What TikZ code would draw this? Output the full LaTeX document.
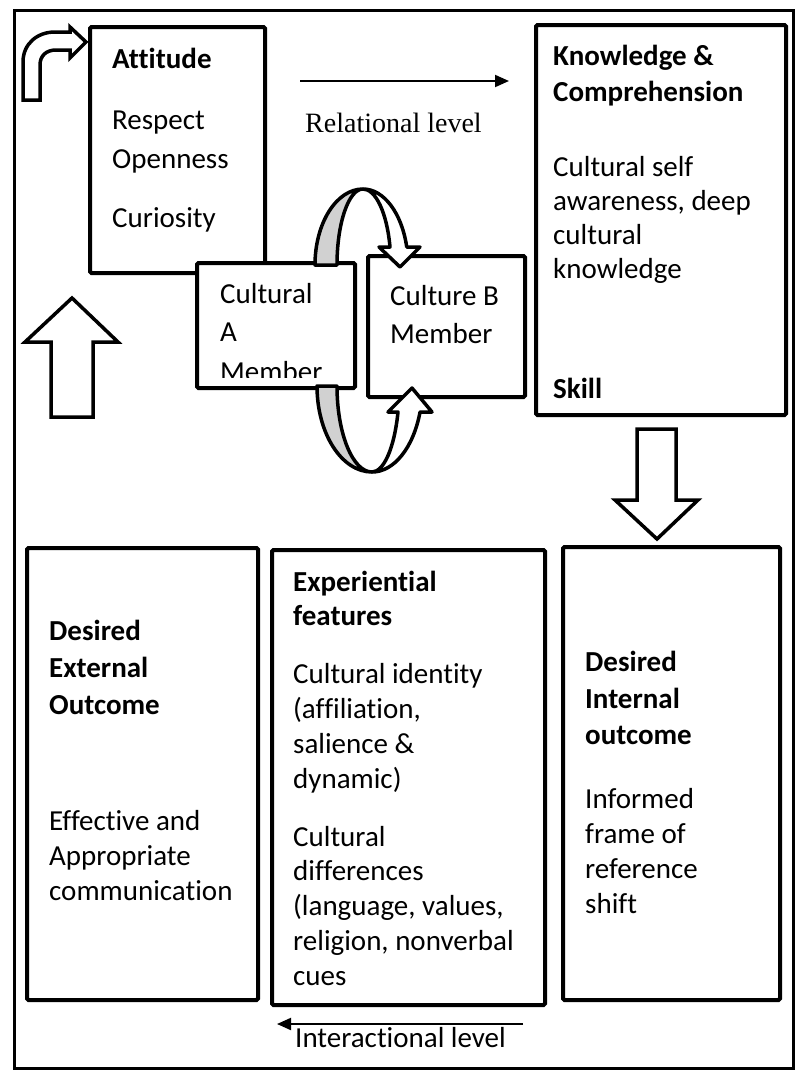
\documentclass[tikz,border=0pt]{standalone}
\usepackage{fontspec}
\setmainfont{Carlito}[Ligatures=NoCommon]
\newfontfamily\serifface{Liberation Serif}
\usetikzlibrary{arrows.meta}

\begin{document}
\begin{tikzpicture}[x=1pt,y=-1pt,
  frame/.style={draw, line width=3pt},
  box/.style={draw, line width=4pt, fill=white, rounded corners=1.5pt, inner sep=0pt, outer sep=0pt},
  txt/.style={anchor=base west, inner sep=0pt, font=\fontsize{29}{35}\selectfont},
  hd/.style={txt, font=\fontsize{29}{35}\selectfont\bfseries},
  bigarrow/.style={draw, line width=3.5pt, fill=white, line join=miter},
  ringback/.style={draw, line width=3.5pt, line join=round, fill=black!18},
  ringfront/.style={draw, line width=3.5pt, line join=round, fill=white},
  level/.style={line width=2pt, -{Triangle[length=14pt,width=12pt]}}
]
\useasboundingbox (0,0) rectangle (799,1071);

% outer frame
\draw[frame] (14,10) rectangle (793,1068);

% upper boxes
\node[box, minimum width=175pt, minimum height=246pt] (att) at (177.5,150) {};
\node[box, minimum width=250pt, minimum height=390pt] (know) at (661,220) {};

% bent arrow into the attitude box
\filldraw[bigarrow] (23,100) -- (23,62) .. controls (23,44) and (37,32) .. (55,32)
  -- (70,32) -- (70,27) -- (86,42) -- (70,58) -- (70,50) -- (56,50)
  .. controls (46,50) and (40,56) .. (40,65) -- (40,100) -- cycle;

% large up and down arrows
\filldraw[bigarrow] (51,417) -- (51,342) -- (25,342) -- (72,298) -- (118,342)
  -- (93,342) -- (93,417) -- cycle;
\filldraw[bigarrow] (637,429) -- (676,429) -- (676,500) -- (698,500) -- (657,539)
  -- (615,500) -- (637,500) -- cycle;

% relational level arrow
\coordinate (relS) at (300,81);
\coordinate (relE) at (509,81);
\draw[level] (relS) -- (relE);
\node[anchor=base west, inner sep=0pt, font=\serifface\fontsize{28}{34}\selectfont] (rel) at (305,132) {Relational level};

% member boxes
\node[box, minimum width=158pt, minimum height=125pt] (memA) at (276,325.5) {};
\node[box, minimum width=157pt, minimum height=141pt] (memB) at (446.5,326.5) {};

% lower boxes
\node[box, minimum width=231pt, minimum height=452pt] (ext) at (142.5,774) {};
\node[box, minimum width=273pt, minimum height=455pt] (exp) at (408.5,777.5) {};
\node[box, minimum width=217pt, minimum height=453pt] (int) at (671.5,773.5) {};

% interactional level arrow
\coordinate (intS) at (523,1024);
\coordinate (intE) at (277,1024);
\draw[level] (intS) -- (intE);
\node[txt] (inter) at (295,1047) {Interactional level};

% attitude text
\node[hd]  (t1) at (112,68)  {Attitude};
\node[txt] (t2) at (112,129) {Respect};
\node[txt] (t3) at (112,168) {Openness};
\node[txt] (t4) at (112,227) {Curiosity};

% knowledge text
\node[hd]  (k1) at (553,65)  {Knowledge \&};
\node[hd]  (k2) at (553,101) {Comprehension};
\node[txt] (k3) at (553,176) {Cultural self};
\node[txt] (k4) at (553,210) {awareness, deep};
\node[txt] (k5) at (553,244) {cultural};
\node[txt] (k6) at (553,278) {knowledge};
\node[hd]  (k7) at (553,398) {Skill};

% member text (cultural A runs past its box)
\begin{scope}
  \clip (197,263) rectangle (355,377);
  \node[txt] (a1) at (220,303) {Cultural};
  \node[txt] (a2) at (220,341) {A};
  \node[txt] (a3) at (220,381) {Member};
\end{scope}
\node[txt] (b1) at (390,305) {Culture B};
\node[txt] (b2) at (390,343) {Member};

% external outcome text
\node[hd]  (e1) at (49,640) {Desired};
\node[hd]  (e2) at (49,677) {External};
\node[hd]  (e3) at (49,714) {Outcome};
\node[txt] (e4) at (49,830) {Effective and};
\node[txt] (e5) at (49,865) {Appropriate};
\node[txt] (e6) at (49,900) {communication};

% experiential features text
\node[hd]  (x1) at (293,591) {Experiential};
\node[hd]  (x2) at (293,625) {features};
\node[txt] (x3) at (293,683) {Cultural identity};
\node[txt] (x4) at (293,718) {(affiliation,};
\node[txt] (x5) at (293,753) {salience \&};
\node[txt] (x6) at (293,788) {dynamic)};
\node[txt] (x7) at (293,846) {Cultural};
\node[txt] (x8) at (293,880) {differences};
\node[txt] (x9) at (293,915) {(language, values,};
\node[txt] (x10) at (293,950) {religion, nonverbal};
\node[txt] (x11) at (293,985) {cues};

% internal outcome text
\node[hd]  (i1) at (585,671) {Desired};
\node[hd]  (i2) at (585,708) {Internal};
\node[hd]  (i3) at (585,744) {outcome};
\node[txt] (i4) at (585,808) {Informed};
\node[txt] (i5) at (585,843) {frame of};
\node[txt] (i6) at (585,878) {reference};
\node[txt] (i7) at (585,913) {shift};

% circular arrows between the members, upper loop
\filldraw[ringback] (315,265) arc[start angle=180, end angle=270, x radius=48, y radius=76]
  arc[start angle=270, end angle=180, x radius=26, y radius=76] -- cycle;
\filldraw[ringfront] (363,189) arc[start angle=-90, end angle=-13.7, x radius=45, y radius=76]
  -- (420,247) -- (400,267) -- (379,247) -- (390,247)
  arc[start angle=-13.7, end angle=-90, x radius=27.8, y radius=76] -- cycle;

% lower loop
\filldraw[ringback] (317,386) arc[start angle=180, end angle=90, x radius=55, y radius=86]
  arc[start angle=90, end angle=180, x radius=35, y radius=86] -- cycle;
\filldraw[ringfront] (372,472) arc[start angle=90, end angle=17.6, x radius=50.4, y radius=86]
  -- (432,412) -- (412,388) -- (388,412) -- (398,412)
  arc[start angle=17.6, end angle=90, x radius=27.3, y radius=86] -- cycle;
\end{tikzpicture}
\end{document}
